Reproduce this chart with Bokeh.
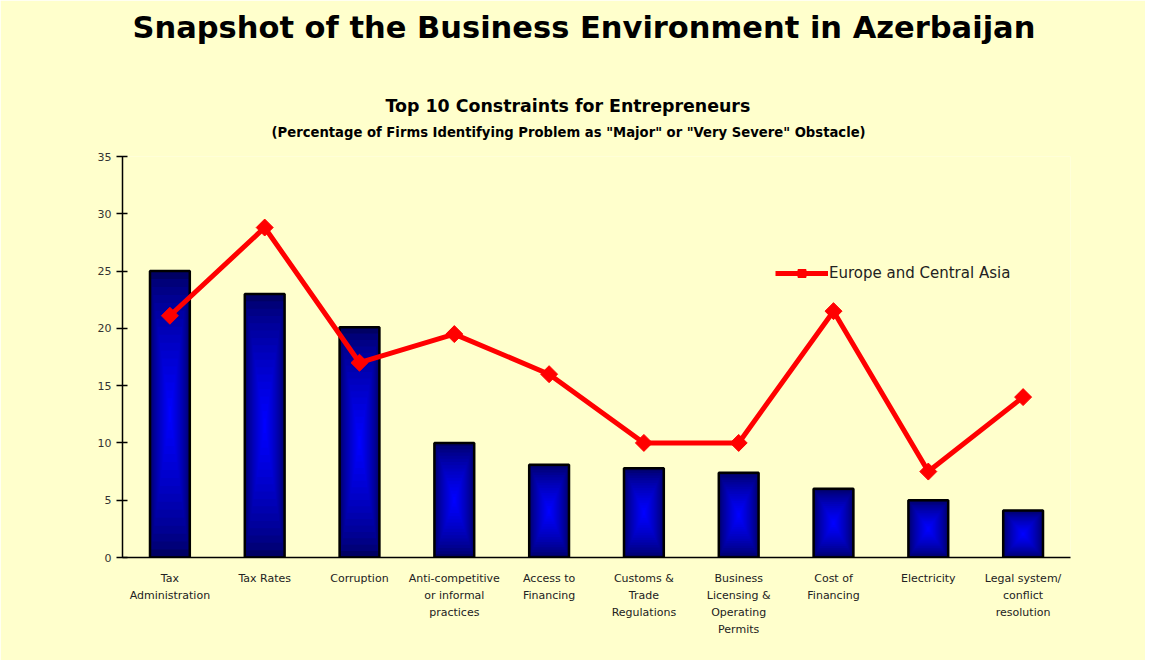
import numpy as np
from bokeh.plotting import figure
from bokeh.models import FactorRange, Title, FixedTicker
from bokeh.embed import file_html
from bokeh.resources import INLINE

# ---- data ----
categories = ["Tax Administration", "Tax Rates", "Corruption",
              "Anti-competitive or informal practices", "Access to Financing",
              "Customs & Trade Regulations", "Business Licensing & Operating Permits",
              "Cost of Financing", "Electricity", "Legal system/ conflict resolution"]
tick_labels = ["Tax\nAdministration", "Tax Rates", "Corruption",
               "Anti-competitive\nor informal\npractices", "Access to\nFinancing",
               "Customs &\nTrade\nRegulations", "Business\nLicensing &\nOperating\nPermits",
               "Cost of\nFinancing", "Electricity", "Legal system/\nconflict\nresolution"]
azerbaijan = [25.0, 23.0, 20.1, 10.0, 8.1, 7.8, 7.4, 6.0, 5.0, 4.1]
europe_central_asia = [21.1, 28.8, 17.0, 19.5, 16.0, 10.0, 10.0, 21.5, 7.5, 14.0]
y_ticks = [0, 5, 10, 15, 20, 25, 30, 35]

main_title = "Snapshot of the Business Environment in Azerbaijan"
sub_title = "Top 10 Constraints for Entrepreneurs"
sub_sub_title = '(Percentage of Firms Identifying Problem as "Major" or "Very Severe" Obstacle)'
legend_text = "Europe and Central Asia"

BG = "#FFFFCC"
FONT = "DejaVu Sans"

p = figure(x_range=FactorRange(*tick_labels, range_padding=0),
           y_range=(0, 35), width=1145, height=660,
           output_backend="svg", toolbar_location=None, title=None,
           min_border_left=122, min_border_right=75, min_border_bottom=103,
           min_border_top=156)
p.background_fill_color = BG
p.border_fill_color = BG
p.outline_line_color = None
p.xgrid.visible = False
p.ygrid.visible = False

# titles (later added = further from plot)
t3 = Title(text=sub_sub_title, align="left", offset=149, text_font=FONT,
           text_font_size="13.2px", text_font_style="bold", text_color="black", standoff=34)
t2 = Title(text=sub_title, align="left", offset=263, text_font=FONT,
           text_font_size="17.4px", text_font_style="bold", text_color="black", standoff=-20)
spacer = Title(text=" ", text_font_size="42px")
t1 = Title(text=main_title, align="left", offset=10, text_font=FONT,
           text_font_size="30.5px", text_font_style="bold", text_color="black", standoff=0)
for t in (t3, t2, spacer, t1):
    p.add_layout(t, "above")

# gradient bars as nested layers
n_layers = 18
bar_w = 0.42
vals = np.array(azerbaijan)
for i in range(n_layers):
    f = 1 - i / n_layers
    t = i / (n_layers - 1)
    b = int(100 + (255 - 100) * (t ** 0.7))
    color = "#%02x%02x%02x" % (0, 0, b)
    mid = vals / 2
    p.vbar(x=tick_labels, top=mid + mid * f, bottom=mid - mid * f, width=bar_w * f,
           fill_color=color, line_color=None)
p.vbar(x=tick_labels, top=vals, bottom=0, width=bar_w, fill_alpha=0,
       line_color="black", line_width=2.5)

# line series
p.line(x=tick_labels, y=europe_central_asia, line_color="#FF0000", line_width=5,
       legend_label=legend_text)
p.scatter(x=tick_labels, y=europe_central_asia, marker="square", angle=np.pi / 4, size=12,
          fill_color="#FF0000", line_color="#FF0000", legend_label=legend_text)

# axes
p.yaxis.ticker = FixedTicker(ticks=y_ticks)
p.yaxis.minor_tick_line_color = None
p.yaxis.major_tick_in = 5
p.yaxis.major_tick_out = 6
p.yaxis.axis_line_color = "black"
p.yaxis.axis_line_width = 1.5
p.yaxis.major_tick_line_width = 1.5
p.yaxis.major_label_text_font = FONT
p.yaxis.major_label_text_font_size = "11px"
p.yaxis.major_label_text_color = "#333333"
p.yaxis.major_label_standoff = 5

p.xaxis.major_tick_line_color = None
p.xaxis.minor_tick_line_color = None
p.xaxis.axis_line_color = "black"
p.xaxis.axis_line_width = 1.5
p.xaxis.major_label_text_font = FONT
p.xaxis.major_label_text_font_size = "11px"
p.xaxis.major_label_text_line_height = 1.32
p.xaxis.major_label_text_color = "#222222"
p.xaxis.major_label_standoff = 8

# legend
p.legend.location = (653, 274)
p.legend.background_fill_alpha = 0
p.legend.border_line_alpha = 0
p.legend.padding = 0
p.legend.margin = 0
p.legend.glyph_width = 53
p.legend.glyph_height = 20
p.legend.label_standoff = 1
p.legend.label_text_font = FONT
p.legend.label_text_font_size = "15px"
p.legend.label_text_color = "#222222"

open("out.html", "w").write(file_html(p, INLINE))
